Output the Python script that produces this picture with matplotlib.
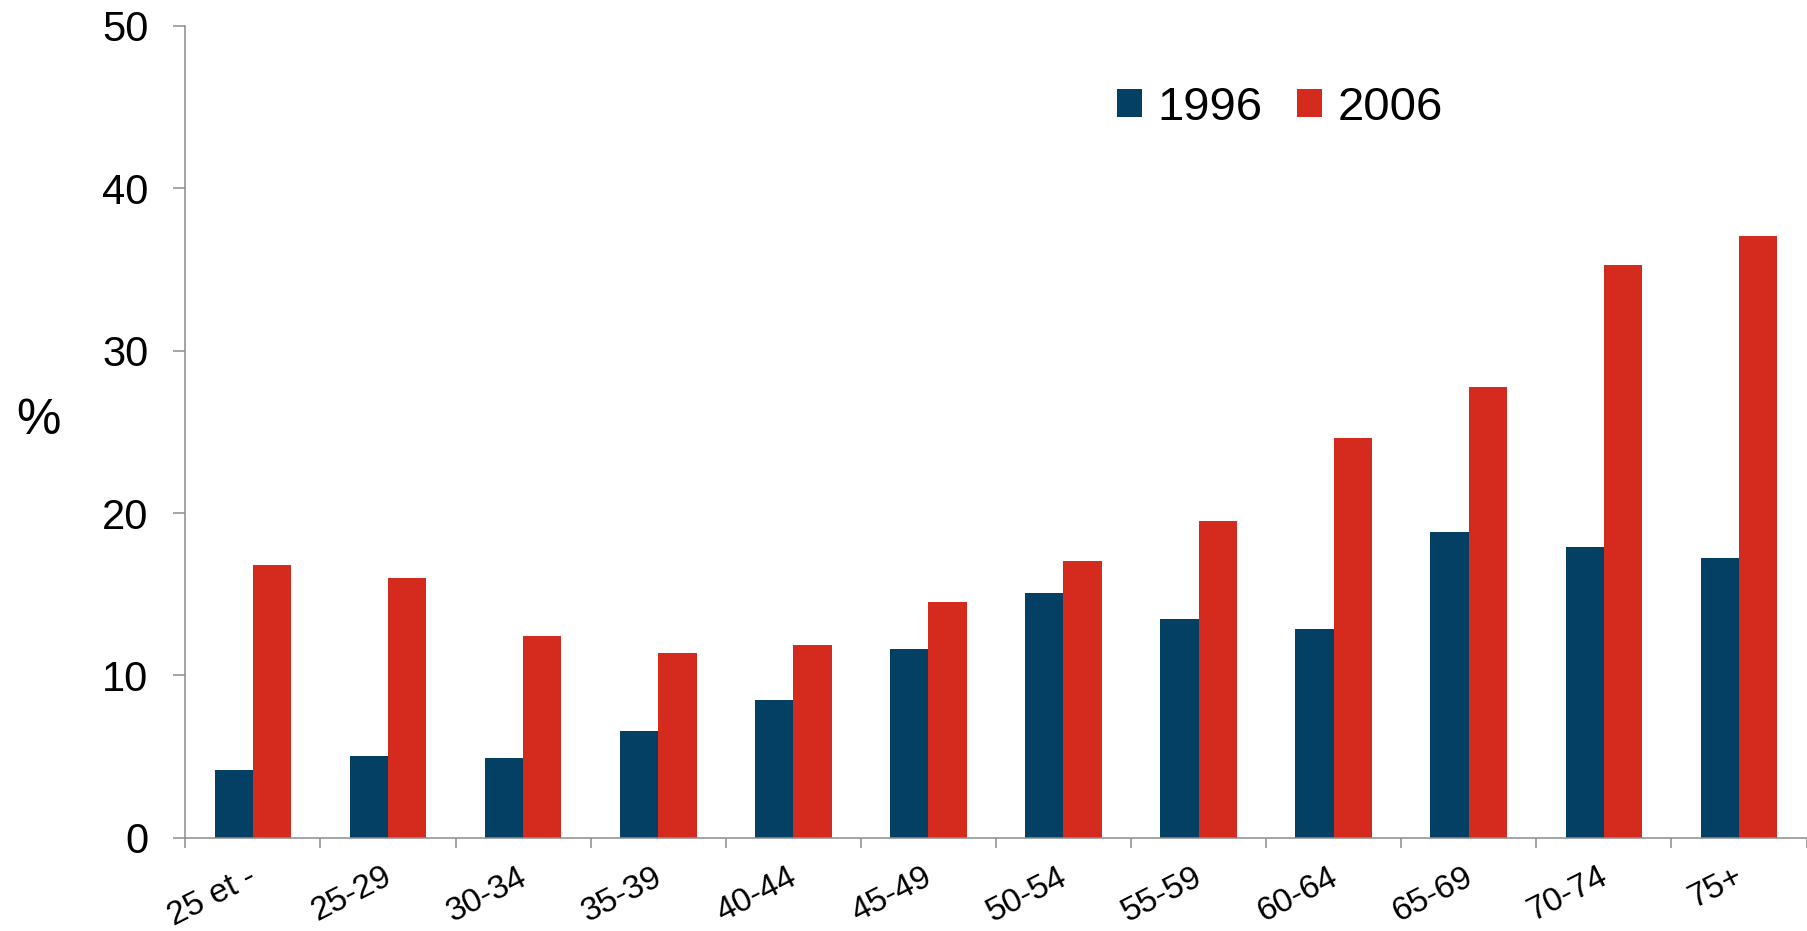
import numpy as np
from matplotlib import pyplot as plt

plt.rcParams['font.family'] = ['Liberation Sans', 'DejaVu Sans']

# 数据
categories = ['25 et -', '25-29', '30-34', '35-39', '40-44', '45-49',
              '50-54', '55-59', '60-64', '65-69', '70-74', '75+']
values_1996 = [4.2, 5.05, 4.9, 6.55, 8.5, 11.65, 15.05, 13.5, 12.85, 18.8, 17.9, 17.2]
values_2006 = [16.8, 16.0, 12.45, 11.35, 11.85, 14.5, 17.05, 19.5, 24.65, 27.75, 35.25, 37.05]
series_labels = ['1996', '2006']
y_ticks = [0, 10, 20, 30, 40, 50]

color_1996 = '#034064'
color_2006 = '#d52b1f'
axis_gray = '#8c8c8c'

fig = plt.figure(figsize=(18.08, 9.31), dpi=100)
ax = fig.add_axes([0.1025, 0.1002, 0.8967, 0.8719])

x = np.arange(len(categories))
w = 0.284
b1 = ax.bar(x - w / 2, values_1996, w, color=color_1996, label=series_labels[0])
b2 = ax.bar(x + w / 2, values_2006, w, color=color_2006, label=series_labels[1])

ax.set_xlim(-0.5, len(categories) - 0.5)
ax.set_ylim(0, 50)

# 坐标轴样式
for side in ['top', 'right']:
    ax.spines[side].set_visible(False)
for side in ['left', 'bottom']:
    ax.spines[side].set_color(axis_gray)
    ax.spines[side].set_linewidth(1.1)

ax.set_yticks(y_ticks)
ax.set_yticklabels([str(t) for t in y_ticks], fontsize=30)
ax.tick_params(axis='y', direction='out', length=8.6, width=1.1, color=axis_gray, pad=18)

ax.set_xticks(x - 0.04)
ax.set_xticklabels(categories, fontsize=24, rotation=27, ha='right', rotation_mode='anchor')
ax.tick_params(axis='x', which='major', length=0, pad=17)
ax.set_xticks(np.arange(-0.5, len(categories), 1.0), minor=True)
ax.tick_params(axis='x', which='minor', direction='out', length=7, width=1.1, color=axis_gray)

fig.text(38 / 1808, 1 - 421 / 931, '%', ha='center', va='center', fontsize=36)

fig.legend(handles=[b1, b2], loc='center', bbox_to_anchor=(0.708, 0.884), ncol=2,
           frameon=False, fontsize=34, handlelength=0.53, handleheight=0.53,
           handletextpad=0.32, columnspacing=0.74, borderpad=0)

plt.savefig('out.png', dpi=100)
